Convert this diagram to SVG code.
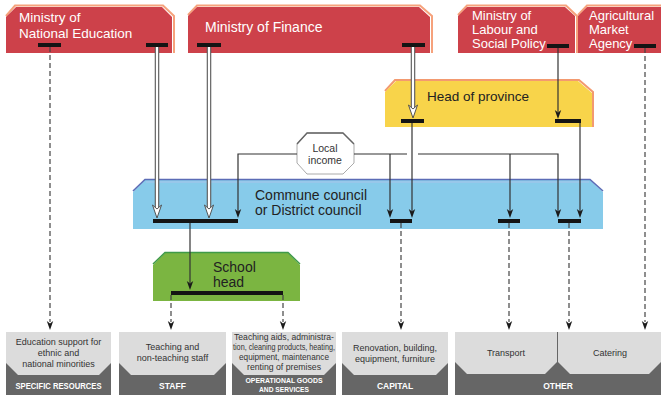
<svg xmlns="http://www.w3.org/2000/svg" width="661" height="398" viewBox="0 0 661 398">
<style>
text{font-family:"Liberation Sans",Arial,sans-serif}
.red{fill:#cd414a}
.redo{fill:none;stroke:#f6a27c;stroke-width:2}
.wt{fill:#fff;font-size:14px}
.dt{fill:#222;font-size:14px}
.bar{fill:#141414}
.ln{fill:none;stroke:#333;stroke-width:1.2}
.dash{fill:none;stroke:#444;stroke-width:1.2;stroke-dasharray:5 3}
.ho{fill:none;stroke:#555;stroke-width:4.5}
.hi{fill:none;stroke:#fff;stroke-width:2.3}
.lg{fill:#dcdcdc}
.dg{fill:#666}
.bt{fill:#333;font-size:9px;text-anchor:middle}
.lb{fill:#fff;font-size:8.5px;font-weight:bold;text-anchor:middle}
</style>
<defs>
<path id="ah" d="M-3.2,-9 L0,0 L3.2,-9 L0,-6.5 Z" fill="#1a1a1a"/>
<path id="oah" d="M-4.5,-13 L0,0 L4.5,-13 L0,-9 Z" fill="#fff" stroke="#444" stroke-width="0.9" stroke-linejoin="round"/>
</defs>
<rect width="661" height="398" fill="#fff"/>

<!-- Top ministries -->
<g id="ministry-education">
<polyline class="redo" points="6,16 15,5.5 163,5.5 174,16 174,53"/>
<polygon class="red" points="6,17 16,7 162,7 172,17 172,53 6,53"/>
<text class="wt" x="19" y="22" style="font-size:13.5px">Ministry of</text>
<text class="wt" x="19" y="37.5" style="font-size:13.5px">National Education</text>
<rect class="bar" x="38" y="43" width="23" height="4"/>
<rect class="bar" x="146" y="43" width="22" height="4"/>
</g>
<g id="ministry-finance">
<polyline class="redo" points="188,15 197,5.5 420,5.5 432,16 432,53"/>
<polygon class="red" points="188,16 197,7 419,7 430,17 430,53 188,53"/>
<text class="wt" x="205" y="32">Ministry of Finance</text>
<rect class="bar" x="197" y="43" width="24" height="4"/>
<rect class="bar" x="402" y="43" width="23" height="4"/>
</g>
<g id="ministry-labour">
<polyline class="redo" points="458,15 467,5.5 566,5.5 577,16 577,53"/>
<polygon class="red" points="458,16 467,7 565,7 575,16 575,53 458,53"/>
<text class="wt" x="472" y="20" style="font-size:13px">Ministry of</text>
<text class="wt" x="472" y="34" style="font-size:13px">Labour and</text>
<text class="wt" x="472" y="48" style="font-size:13px">Social Policy</text>
<rect class="bar" x="547" y="44" width="22" height="4"/>
</g>
<g id="agricultural-market-agency">
<polyline class="redo" points="578,15 587,5.5 665,5.5"/>
<polygon class="red" points="578,16 587,7 665,7 665,53 578,53"/>
<text class="wt" x="589" y="20" style="font-size:13px">Agricultural</text>
<text class="wt" x="589" y="34" style="font-size:13px">Market</text>
<text class="wt" x="589" y="48" style="font-size:13px">Agency</text>
<rect class="bar" x="634" y="44" width="22" height="4"/>
</g>

<!-- Head of province -->
<g id="head-of-province">
<polyline fill="none" stroke="#f39a70" stroke-width="2" points="385,91 395,80 579,80 593,92 593,127"/>
<polygon fill="#f8d44a" points="385,92 396,81 578,81 592,93 592,127 385,127"/>
<text class="dt" x="427" y="101" style="font-size:13.5px">Head of province</text>
<rect class="bar" x="401" y="119" width="23" height="4"/>
<rect class="bar" x="555" y="119" width="26" height="4"/>
</g>

<!-- Local income -->
<g id="local-income">
<polygon fill="#fff" stroke="#aaa" stroke-width="1" points="297,144 307,133 343,133 354,144 354,163 343,174 307,174 297,163"/>
<polyline fill="none" stroke="#666" stroke-width="1.5" points="297,144 307,133 343,133 354,144"/>
<text x="325" y="152" style="font-size:10.5px;fill:#333;text-anchor:middle">Local</text>
<text x="325" y="164" style="font-size:10.5px;fill:#333;text-anchor:middle">income</text>
</g>

<!-- Commune council -->
<g id="commune-council">
<polygon fill="#87cbea" points="133,192 145,180 590,180 603,192 603,229 133,229"/>
<polyline fill="none" stroke="#5b6cb6" stroke-width="1.6" points="133,191 145,179.5 590,179.5 603,191"/>
<polyline fill="none" stroke="#a9c4ea" stroke-width="1" points="146,182 589,182"/>
<text class="dt" x="255" y="200">Commune council</text>
<text class="dt" x="255" y="215">or District council</text>
<rect class="bar" x="153" y="219" width="85" height="4"/>
<rect class="bar" x="390" y="219" width="22" height="4"/>
<rect class="bar" x="498" y="219" width="22" height="4"/>
<rect class="bar" x="558" y="219" width="23" height="4"/>
</g>

<!-- School head -->
<g id="school-head">
<polygon fill="#7bb541" points="153,265 165,253 288,253 300,265 300,301 153,301"/>
<polyline fill="none" stroke="#3f9a48" stroke-width="1.5" points="153,264 165,252.5 288,252.5 300,264"/>
<text class="dt" x="213" y="272">School</text>
<text class="dt" x="213" y="287">head</text>
<rect class="bar" x="171" y="291" width="112" height="4"/>
</g>

<!-- Bottom boxes -->
<g id="specific-resources">
<rect class="dg" x="6" y="332" width="105" height="63"/>
<polygon class="lg" points="6,332 111,332 111,363 99,375 18,375 6,363"/>
<text class="bt" x="58.5" y="345">Education support for</text>
<text class="bt" x="58.5" y="356">ethnic and</text>
<text class="bt" x="58.5" y="367">national minorities</text>
<text class="lb" x="58.5" y="389" textLength="86" lengthAdjust="spacingAndGlyphs">SPECIFIC RESOURCES</text>
</g>
<g id="staff">
<rect class="dg" x="119" y="332" width="107" height="63"/>
<polygon class="lg" points="119,332 226,332 226,363 214,375 131,375 119,363"/>
<text class="bt" x="172.5" y="350">Teaching and</text>
<text class="bt" x="172.5" y="361">non-teaching staff</text>
<text class="lb" x="172.5" y="389">STAFF</text>
</g>
<g id="operational-goods">
<rect class="dg" x="232" y="332" width="104" height="63"/>
<polygon class="lg" points="232,332 336,332 336,363 324,375 244,375 232,363"/>
<text class="bt" x="284" y="340" textLength="100" lengthAdjust="spacingAndGlyphs">Teaching aids, administra-</text>
<text class="bt" x="284" y="350" textLength="102" lengthAdjust="spacingAndGlyphs">tion, cleaning products, heating,</text>
<text class="bt" x="284" y="360" textLength="90" lengthAdjust="spacingAndGlyphs">equipment, maintenance</text>
<text class="bt" x="284" y="370" textLength="74" lengthAdjust="spacingAndGlyphs">renting of premises</text>
<text class="lb" x="284" y="383" style="font-size:7.5px" textLength="77" lengthAdjust="spacingAndGlyphs">OPERATIONAL GOODS</text>
<text class="lb" x="284" y="392" style="font-size:7.5px" textLength="50" lengthAdjust="spacingAndGlyphs">AND SERVICES</text>
</g>
<g id="capital">
<rect class="dg" x="342" y="332" width="106" height="63"/>
<polygon class="lg" points="342,332 448,332 448,363 436,375 354,375 342,363"/>
<text class="bt" x="395" y="351">Renovation, building,</text>
<text class="bt" x="395" y="362">equipment, furniture</text>
<text class="lb" x="395" y="389">CAPITAL</text>
</g>
<g id="other">
<rect class="dg" x="455" y="332" width="206" height="63"/>
<polygon class="lg" points="455,332 557,332 557,362 545,374 467,374 455,362"/>
<polygon class="lg" points="558,332 661,332 661,362 649,374 570,374 558,362"/>
<text class="bt" x="506" y="356">Transport</text>
<text class="bt" x="610" y="356">Catering</text>
<text class="lb" x="558" y="389">OTHER</text>
</g>

<!-- Connectors -->
<g id="connectors">
<path class="ho" d="M157,47 V208 M209,47 V208 M413,47 V108"/>
<path class="hi" d="M157,47 V210 M209,47 V210 M413,47 V110"/>
<use href="#oah" x="157" y="218"/>
<use href="#oah" x="209" y="218"/>
<use href="#oah" x="413" y="118"/>
<path class="ln" d="M558,48 V112"/>
<use href="#ah" x="558" y="119"/>
<path class="ln" d="M412,123 V212"/>
<use href="#ah" x="412" y="218"/>
<path class="ln" d="M580,123 V212"/>
<use href="#ah" x="580" y="218"/>
<path class="ln" d="M297,154 H238 V212"/>
<use href="#ah" x="238" y="218"/>
<path class="ln" d="M354,154 H407 M418,154 H558 V212 M390,154 V212 M510,154 V212"/>
<use href="#ah" x="390" y="218"/>
<use href="#ah" x="510" y="218"/>
<use href="#ah" x="558" y="218"/>
<path class="ln" d="M190,223 V283"/>
<use href="#ah" x="190" y="290"/>
<path class="dash" d="M50,47 V322 M645,48 V322 M171,295 V322 M283,295 V322 M401,223 V322 M509,223 V322 M569,223 V322"/>
<use href="#ah" x="50" y="330"/>
<use href="#ah" x="645" y="330"/>
<use href="#ah" x="171" y="330"/>
<use href="#ah" x="283" y="330"/>
<use href="#ah" x="401" y="330"/>
<use href="#ah" x="509" y="330"/>
<use href="#ah" x="569" y="330"/>
</g>
</svg>
